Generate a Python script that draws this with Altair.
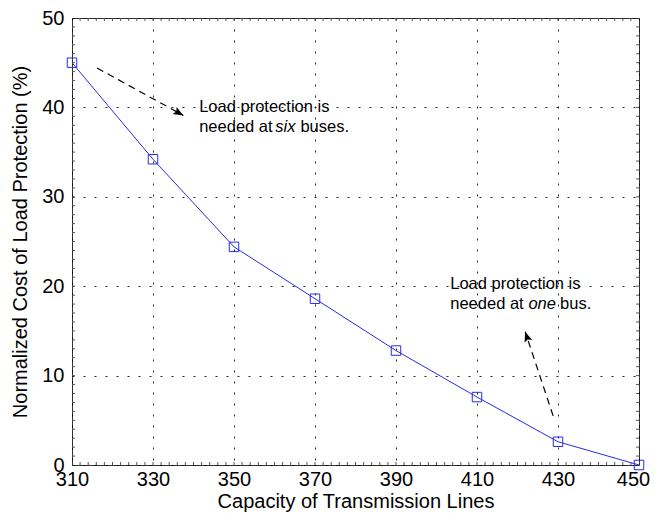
import altair as alt
import pandas as pd

# data
capacity = [310, 330, 350, 370, 390, 410, 430, 450]
cost = [45.0, 34.2, 24.4, 18.6, 12.8, 7.6, 2.6, 0.0]

x_ticks = [310, 330, 350, 370, 390, 410, 430, 450]
y_ticks = [0, 10, 20, 30, 40, 50]
x_minor = list(range(312, 450, 2))
y_minor = list(range(1, 50, 1))

# annotation arrows (data units): start -> end
arrow_id = ["a1", "a1", "a2", "a2"]
arrow_x = [316.2, 337.5, 428.8, 421.9]
arrow_y = [44.4, 39.1, 5.5, 14.9]
arrow_order = [0, 1, 0, 1]
head_x = [337.5, 421.9]
head_y = [39.1, 14.9]
head_angle = [119.2, 341.6]

# annotation text fragments
txt_plain = ["Load protection is", "needed at", "buses.", "Load protection is", "needed at", "bus."]
txt_plain_x = [341.4, 341.4, 366.4, 403.4, 403.4, 430.5]
txt_plain_y = [40.0, 37.8, 37.8, 20.2, 18.0, 18.0]
txt_ital = ["six", "one"]
txt_ital_x = [360.2, 422.7]
txt_ital_y = [37.8, 18.0]

FONT = "Liberation Sans"
BLUE = "#2a2ae8"

df = pd.DataFrame({"x": capacity, "y": cost})
arrows = pd.DataFrame({"id": arrow_id, "x": arrow_x, "y": arrow_y, "o": arrow_order})
heads = pd.DataFrame({"x": head_x, "y": head_y, "ang": head_angle})
tp = pd.DataFrame({"x": txt_plain_x, "y": txt_plain_y, "t": txt_plain})
ti = pd.DataFrame({"x": txt_ital_x, "y": txt_ital_y, "t": txt_ital})
xm = pd.DataFrame({"x": x_minor})
ym = pd.DataFrame({"y": y_minor})

xs = alt.Scale(domain=[310, 450], nice=False, zero=False)
ys = alt.Scale(domain=[0, 50], nice=False)

xenc = alt.X("x:Q", scale=xs, title="Capacity of Transmission Lines",
             axis=alt.Axis(values=x_ticks, format="d", grid=True, gridDash=[2, 9],
                           gridColor="#000", gridOpacity=0.85, tickSize=0, domain=False,
                           labelPadding=4, labelFontSize=20, titleFontSize=20,
                           labelFont=FONT, titleFont=FONT, titleFontWeight="normal",
                           labelColor="#000", titleColor="#000", titlePadding=2,
                           labelOffset={"expr": "datum.value == 450 ? -6 : 0"},
                           labelFlush=False))
yenc = alt.Y("y:Q", scale=ys, title="Normalized Cost of Load Protection (%)",
             axis=alt.Axis(values=y_ticks, format="d", grid=True, gridDash=[2, 9],
                           gridColor="#000", gridOpacity=0.85, tickSize=0, domain=False,
                           labelPadding=8, labelFontSize=20, titleFontSize=20,
                           labelFont=FONT, titleFont=FONT, titleFontWeight="normal",
                           labelColor="#000", titleColor="#000", titlePadding=11,
                           labelFlush=False))

line = alt.Chart(df).mark_line(color=BLUE, strokeWidth=1).encode(x=xenc, y=yenc)
pts = alt.Chart(df).mark_point(shape="square", filled=False, size=90, color=BLUE,
                               strokeWidth=1, opacity=1).encode(x="x:Q", y="y:Q")

arr = alt.Chart(arrows).mark_line(color="#000", strokeWidth=1.2, strokeDash=[7, 5]).encode(
    x="x:Q", y="y:Q", detail="id:N", order="o:Q")
hd = alt.Chart(heads).mark_point(shape="M0,0 L-0.4,1 L0,0.8 L0.4,1 Z", filled=True,
                                 size=400, color="#000", opacity=1).encode(
    x="x:Q", y="y:Q", angle=alt.Angle("ang:Q", scale=None))

t1 = alt.Chart(tp).mark_text(align="left", baseline="middle", font=FONT, fontSize=16.5,
                             color="#000").encode(x="x:Q", y="y:Q", text="t:N")
t2 = alt.Chart(ti).mark_text(align="left", baseline="middle", font=FONT, fontSize=16.5,
                             fontStyle="italic", color="#000").encode(x="x:Q", y="y:Q", text="t:N")

# minor ticks along the four borders (inside)
TK = dict(color="#555", thickness=1, size=3, opacity=1)
mb = alt.Chart(xm).mark_tick(orient="vertical", yOffset=-1.5, **TK).encode(x="x:Q", y=alt.datum(0))
mt = alt.Chart(xm).mark_tick(orient="vertical", yOffset=1.5, **TK).encode(x="x:Q", y=alt.datum(50))
ml = alt.Chart(ym).mark_tick(orient="horizontal", xOffset=1.5, **TK).encode(y="y:Q", x=alt.datum(310))
mr = alt.Chart(ym).mark_tick(orient="horizontal", xOffset=-1.5, **TK).encode(y="y:Q", x=alt.datum(450))

chart = alt.layer(line, mb, mt, ml, mr, pts, arr, hd, t1, t2).properties(
    width=567, height=447,
    autosize=alt.AutoSizeParams(type="none"),
    padding={"left": 64, "top": 10, "right": 11, "bottom": 49},
    background="white",
).configure_view(stroke="#333", strokeWidth=1)

chart.save("out.html", embed_options={"renderer": "svg", "actions": False})
